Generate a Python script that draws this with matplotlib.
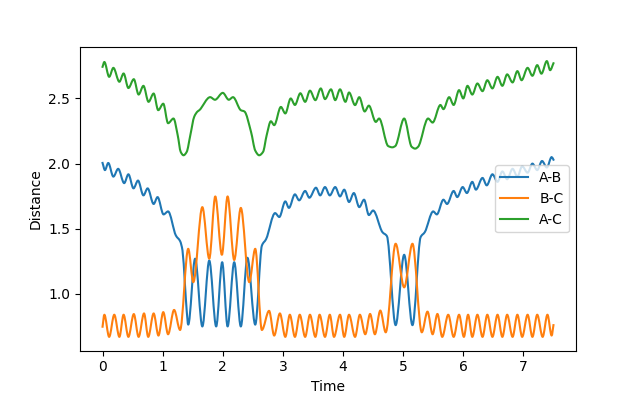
import matplotlib
matplotlib.use("Agg")
import numpy as np
import matplotlib.pyplot as plt
from matplotlib.path import Path
from matplotlib.patches import PathPatch
from matplotlib.lines import Line2D

# turning points (time, distance)
ab_t = [0.0, 0.04, 0.095, 0.18, 0.26, 0.36, 0.43, 0.515, 0.59, 0.68, 0.75, 0.85, 0.915,
        1.015, 1.09, 1.22, 1.29, 1.33, 1.37, 1.40, 1.425, 1.54, 1.66, 1.775, 1.89, 1.99,
        2.08, 2.19, 2.30, 2.41, 2.54, 2.65, 2.72, 2.87, 2.94, 3.04, 3.10, 3.20, 3.27,
        3.37, 3.44, 3.55, 3.62, 3.70, 3.78, 3.87, 3.95, 4.02, 4.10, 4.18, 4.27, 4.35,
        4.43, 4.50, 4.655, 4.73, 4.875, 5.017, 5.155, 5.29, 5.36, 5.50, 5.56, 5.67, 5.73,
        5.84, 5.90, 5.99, 6.06, 6.15, 6.21, 6.32, 6.39, 6.485, 6.57, 6.65, 6.73, 6.82,
        6.90, 6.98, 7.07, 7.15, 7.23, 7.31, 7.39, 7.47, 7.50]
ab_d = [2.005, 1.95, 2.005, 1.90, 1.96, 1.85, 1.918, 1.81, 1.87, 1.756, 1.81, 1.69, 1.743,
        1.61, 1.633, 1.448, 1.405, 1.333, 1.077, 0.87, 0.764, 1.27, 0.75, 1.256, 0.75, 1.243,
        0.75, 1.243, 0.75, 1.277, 0.764, 1.37, 1.42, 1.62, 1.59, 1.71, 1.66, 1.764, 1.718,
        1.79, 1.738, 1.815, 1.756, 1.82, 1.756, 1.82, 1.748, 1.80, 1.705, 1.774, 1.666, 1.723,
        1.605, 1.64, 1.474, 1.443, 0.76, 1.30, 0.76, 1.435, 1.474, 1.633, 1.61, 1.723, 1.69,
        1.79, 1.743, 1.82, 1.774, 1.86, 1.80, 1.89, 1.833, 1.918, 1.86, 1.94, 1.88, 1.96,
        1.90, 1.98, 1.93, 2.00, 1.95, 2.02, 1.97, 2.05, 2.03]

bc_t = [0.0, 0.03, 0.11, 0.195, 0.28, 0.35, 0.43, 0.52, 0.60, 0.69, 0.76, 0.85, 0.93,
        1.01, 1.09, 1.19, 1.29, 1.425, 1.51, 1.66, 1.775, 1.875, 1.985, 2.08, 2.19, 2.30,
        2.44, 2.54, 2.65, 2.77, 2.855, 2.95, 3.04, 3.115, 3.20, 3.28, 3.37, 3.45, 3.54,
        3.61, 3.70, 3.78, 3.85, 3.95, 4.02, 4.10, 4.20, 4.28, 4.37, 4.45, 4.53, 4.62,
        4.71, 4.875, 5.017, 5.155, 5.31, 5.405, 5.49, 5.57, 5.65, 5.75, 5.84, 5.93, 6.01,
        6.08, 6.15, 6.235, 6.32, 6.40, 6.485, 6.57, 6.65, 6.73, 6.82, 6.90, 6.98, 7.07,
        7.15, 7.23, 7.32, 7.40, 7.47, 7.50]
bc_d = [0.748, 0.84, 0.67, 0.84, 0.67, 0.84, 0.67, 0.845, 0.67, 0.85, 0.67, 0.85, 0.68,
        0.86, 0.69, 0.877, 0.723, 1.346, 1.09, 1.666, 1.27, 1.748, 1.30, 1.748, 1.26, 1.66,
        1.09, 1.346, 0.723, 0.87, 0.68, 0.85, 0.67, 0.84, 0.67, 0.84, 0.67, 0.84, 0.67,
        0.84, 0.67, 0.84, 0.67, 0.84, 0.67, 0.84, 0.67, 0.84, 0.69, 0.846, 0.69, 0.872,
        0.705, 1.385, 1.05, 1.385, 0.705, 0.864, 0.69, 0.846, 0.67, 0.84, 0.67, 0.84, 0.67,
        0.84, 0.67, 0.84, 0.67, 0.84, 0.67, 0.84, 0.67, 0.84, 0.67, 0.84, 0.67, 0.84,
        0.67, 0.84, 0.67, 0.84, 0.68, 0.76]

ac_t = [0.0, 0.03, 0.11, 0.18, 0.28, 0.35, 0.43, 0.52, 0.60, 0.68, 0.765, 0.85, 0.926,
        1.01, 1.09, 1.18, 1.25, 1.30, 1.347, 1.40, 1.46, 1.525, 1.58, 1.61, 1.79, 1.87,
        2.0, 2.1, 2.17, 2.3, 2.36, 2.47, 2.54, 2.605, 2.67, 2.73, 2.80, 2.855, 2.966,
        3.04, 3.13, 3.2, 3.29, 3.37, 3.45, 3.54, 3.63, 3.70, 3.80, 3.87, 3.95, 4.04,
        4.10, 4.20, 4.27, 4.36, 4.43, 4.545, 4.60, 4.75, 4.82, 4.87, 5.017, 5.14, 5.20,
        5.25, 5.415, 5.49, 5.62, 5.67, 5.765, 5.84, 5.93, 6.0, 6.07, 6.15, 6.235, 6.32,
        6.40, 6.485, 6.57, 6.65, 6.73, 6.82, 6.90, 6.97, 7.07, 7.15, 7.23, 7.30, 7.39,
        7.445, 7.5]
ac_d = [2.743, 2.78, 2.666, 2.735, 2.628, 2.692, 2.58, 2.648, 2.53, 2.597, 2.474, 2.538, 2.41,
        2.46, 2.31, 2.346, 2.218, 2.09, 2.064, 2.09, 2.218, 2.36, 2.40, 2.41, 2.51, 2.49,
        2.543, 2.49, 2.51, 2.41, 2.40, 2.243, 2.10, 2.064, 2.09, 2.218, 2.325, 2.295, 2.435,
        2.385, 2.50, 2.45, 2.54, 2.474, 2.56, 2.487, 2.577, 2.495, 2.57, 2.487, 2.57, 2.474,
        2.546, 2.449, 2.51, 2.40, 2.445, 2.32, 2.346, 2.135, 2.125, 2.135, 2.346, 2.13, 2.115,
        2.13, 2.346, 2.315, 2.45, 2.418, 2.51, 2.45, 2.564, 2.50, 2.597, 2.53, 2.615, 2.556,
        2.64, 2.577, 2.666, 2.597, 2.685, 2.623, 2.71, 2.64, 2.735, 2.674, 2.756, 2.69, 2.787,
        2.717, 2.77]

series = [("A-B", ab_t, ab_d, "C0"), ("B-C", bc_t, bc_d, "C1"), ("A-C", ac_t, ac_d, "C2")]


def curve_path(t, d):
    # smooth bezier path through the read points (flat at turning points)
    t = np.asarray(t, float)
    d = np.asarray(d, float)
    h = np.diff(t)
    s = np.diff(d) / h
    m = np.zeros_like(d)
    m[0], m[-1] = s[0], s[-1]
    for i in range(1, len(d) - 1):
        if s[i - 1] * s[i] > 0:
            m[i] = 2.0 / (1.0 / s[i - 1] + 1.0 / s[i])
    verts = [(t[0], d[0])]
    codes = [Path.MOVETO]
    for i in range(len(h)):
        verts += [(t[i] + h[i] / 3, d[i] + m[i] * h[i] / 3),
                  (t[i + 1] - h[i] / 3, d[i + 1] - m[i + 1] * h[i] / 3),
                  (t[i + 1], d[i + 1])]
        codes += [Path.CURVE4] * 3
    return Path(verts, codes)


fig, ax = plt.subplots(figsize=(6.4, 3.94), dpi=100)
handles = []
for label, t, d, c in series:
    ax.add_patch(PathPatch(curve_path(t, d), facecolor="none", edgecolor=c,
                           lw=1.5, joinstyle="round", capstyle="projecting"))
    handles.append(Line2D([], [], color=c, lw=1.5, label=label))
ax.autoscale_view()
ax.set_xlabel("Time")
ax.set_ylabel("Distance")
ax.legend(handles=handles, loc="center right")
fig.savefig("out.png", dpi=100)
